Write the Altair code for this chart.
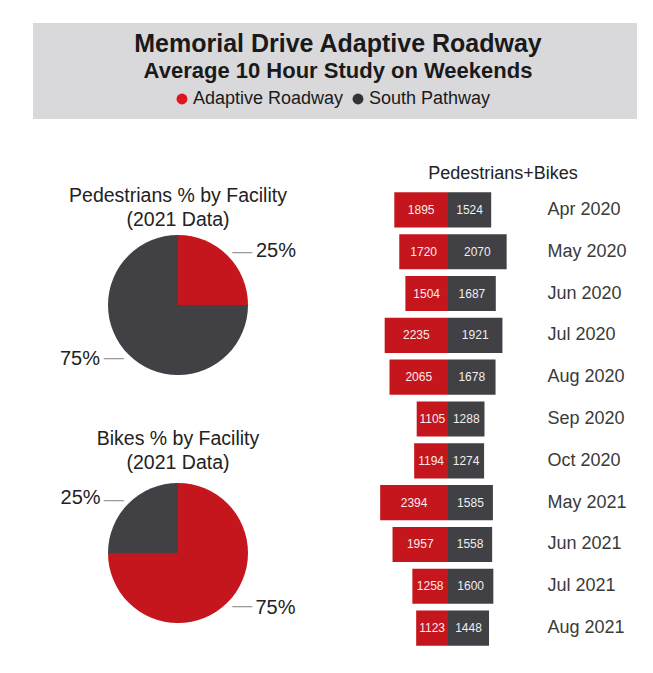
import altair as alt
import pandas as pd

FONT = "Liberation Sans"

TITLE = "Memorial Drive Adaptive Roadway"
SUBTITLE = "Average 10 Hour Study on Weekends"
BAR_TITLE = "Pedestrians+Bikes"

series = ["Adaptive Roadway", "South Pathway"]
colors = ["#c4161c", "#414044"]
legend_colors = ["#e0161d", "#333335"]

months = ["Apr 2020", "May 2020", "Jun 2020", "Jul 2020", "Aug 2020", "Sep 2020",
          "Oct 2020", "May 2021", "Jun 2021", "Jul 2021", "Aug 2021"]
adaptive = [1895, 1720, 1504, 2235, 2065, 1105, 1194, 2394, 1957, 1258, 1123]
south = [1524, 2070, 1687, 1921, 1678, 1288, 1274, 1585, 1558, 1600, 1448]

ped_title = ["Pedestrians % by Facility", "(2021 Data)"]
ped_share = [25, 75]
bike_title = ["Bikes % by Facility", "(2021 Data)"]
bike_share = [75, 25]

color_scale = alt.Scale(domain=series, range=colors)

# ---------------- header ----------------
header = alt.layer(
    alt.Chart(pd.DataFrame({"t": [TITLE]})).mark_text(
        font=FONT, fontSize=25, fontWeight="bold", color="#1a1a1a", baseline="middle"
    ).encode(text="t:N", x=alt.value(305), y=alt.value(21)),
    alt.Chart(pd.DataFrame({"t": [SUBTITLE]})).mark_text(
        font=FONT, fontSize=22, fontWeight="bold", color="#1a1a1a", baseline="middle"
    ).encode(text="t:N", x=alt.value(305), y=alt.value(48)),
    alt.Chart(pd.DataFrame({"series": series})).mark_circle(opacity=0).encode(
        x=alt.value(0), y=alt.value(0),
        color=alt.Color(
            "series:N",
            scale=alt.Scale(domain=series, range=legend_colors),
            legend=alt.Legend(
                orient="none", legendX=140, legendY=67, direction="horizontal",
                title=None, symbolType="circle", symbolSize=120, symbolOpacity=1,
                labelFont=FONT, labelFontSize=18, labelColor="#1a1a1a",
                columnPadding=5, labelOffset=2, padding=0, symbolStrokeWidth=0,
            ),
        ),
    ),
).properties(width=604, height=96, view=alt.ViewBackground(fill="#d9d9dc", strokeWidth=0))


# ---------------- pies ----------------
def pie(vals, cy, label_off, line_off, titles, ty):
    df = pd.DataFrame({"series": series, "share": vals, "idx": [0, 1],
                       "label": [f"{v}%" for v in vals]})
    base = alt.Chart(df).encode(
        theta=alt.Theta("share:Q", stack=True, scale=alt.Scale(domain=[0, 100])),
        order=alt.Order("idx:Q"),
        x=alt.value(145), y=alt.value(cy),
    )
    arc = base.mark_arc(outerRadius=70).encode(
        color=alt.Color("series:N", scale=color_scale, legend=None)
    )
    line = base.mark_text(radius=83, thetaOffset=line_off, text="\u2014",
                          fontSize=20, color="#9a9a9a", font=FONT)
    lab = base.mark_text(radius=112, thetaOffset=label_off, fontSize=20,
                         color="#222222", font=FONT).encode(text="label:N")
    t1 = alt.Chart(pd.DataFrame({"t": [titles[0]]})).mark_text(
        font=FONT, fontSize=19.5, color="#222222").encode(
        text="t:N", x=alt.value(145), y=alt.value(ty))
    t2 = alt.Chart(pd.DataFrame({"t": [titles[1]]})).mark_text(
        font=FONT, fontSize=19.5, color="#222222").encode(
        text="t:N", x=alt.value(145), y=alt.value(ty + 24))
    return [arc, line, lab, t1, t2]


left = alt.layer(
    *pie(ped_share, 116, 0.28, 0.10, ped_title, 7),
    *pie(bike_share, 364, -0.27, -0.10, bike_title, 250),
).properties(width=290, height=460)

# ---------------- bars ----------------
rows = []
for m, a, s in zip(months, adaptive, south):
    rows.append({"month": m, "series": series[0], "value": a, "signed": -a})
    rows.append({"month": m, "series": series[1], "value": s, "signed": s})
bdf = pd.DataFrame(rows)

ycol = alt.Y(
    "month:N", sort=months,
    scale=alt.Scale(paddingInner=0.16, paddingOuter=0.08),
    axis=alt.Axis(orient="right", title=None, domain=False, ticks=False,
                  labelFont=FONT, labelFontSize=18, labelColor="#3a3a3a",
                  labelFontWeight="normal", labelPadding=14, labelAlign="left"),
)
xcol = alt.X("signed:Q", scale=alt.Scale(domain=[-2600, 2600]), axis=None)

bars = alt.Chart(bdf).mark_bar().encode(
    y=ycol, x=xcol,
    color=alt.Color("series:N", scale=color_scale, legend=None),
)
btext = alt.Chart(bdf).transform_calculate(mid="datum.signed / 2").mark_text(
    color="white", fontSize=12, font=FONT, opacity=0.92
).encode(y=alt.Y("month:N", sort=months), x=alt.X("mid:Q"), text="value:Q")

right = alt.layer(bars, btext).properties(
    width=170, height=460,
    title=alt.TitleParams(BAR_TITLE, font=FONT, fontSize=18, fontWeight="normal",
                          color="#222222", anchor="middle", dx=55, offset=6),
)

body = alt.hconcat(left, right, spacing=40, bounds="flush")

chart = alt.vconcat(header, body, spacing=46).properties(
    padding={"left": 22, "top": 12, "right": 0, "bottom": 0}
).configure(
    background="white", view=alt.ViewConfig(strokeWidth=0)
).resolve_scale(color="independent")

chart.save("out.html", embed_options={"renderer": "svg", "actions": False})
